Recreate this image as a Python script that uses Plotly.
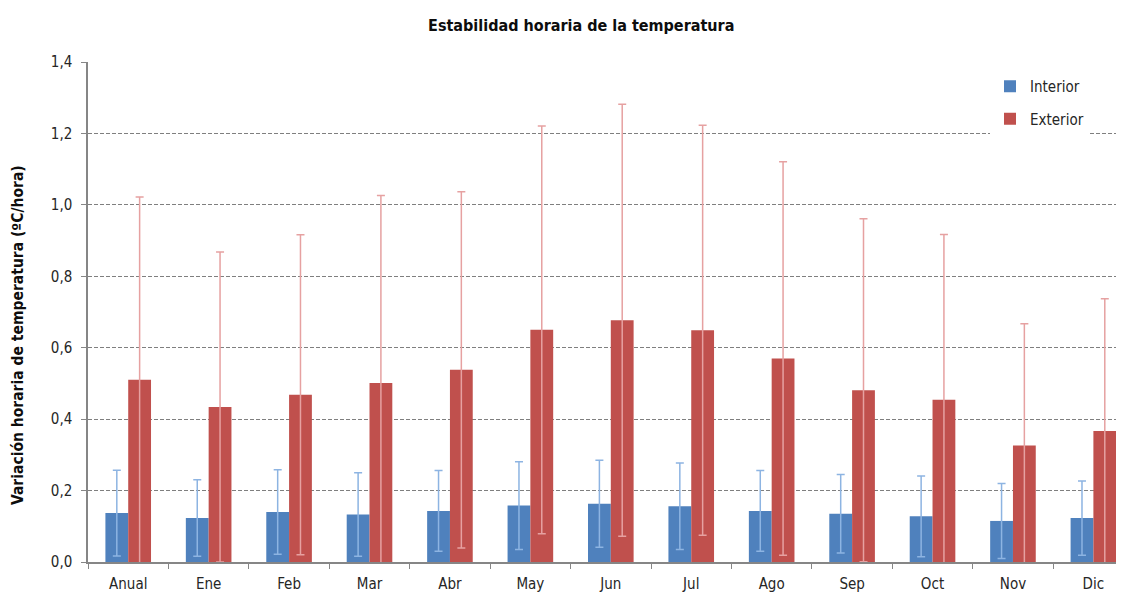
import plotly.graph_objects as go

# Data
categories = ["Anual", "Ene", "Feb", "Mar", "Abr", "May", "Jun", "Jul", "Ago", "Sep", "Oct", "Nov", "Dic"]
interior = [0.137, 0.123, 0.140, 0.133, 0.143, 0.158, 0.163, 0.156, 0.143, 0.135, 0.128, 0.115, 0.123]
interior_err = [0.120, 0.107, 0.118, 0.117, 0.113, 0.123, 0.122, 0.121, 0.113, 0.110, 0.113, 0.105, 0.104]
exterior = [0.510, 0.434, 0.468, 0.501, 0.538, 0.650, 0.677, 0.649, 0.570, 0.481, 0.454, 0.326, 0.367]
exterior_err = [0.512, 0.434, 0.448, 0.525, 0.499, 0.571, 0.605, 0.574, 0.551, 0.480, 0.463, 0.341, 0.370]

FONT = "Liberation Sans Narrow, Arial Narrow, DejaVu Sans Condensed, sans-serif"

fig = go.Figure()

fig.add_trace(go.Bar(
    x=categories, y=interior, name="Interior",
    marker=dict(color="#4F81BD", line=dict(width=0)),
    error_y=dict(type="data", array=interior_err, visible=True,
                 color="#8DB4E2", thickness=1.5, width=4),
    legendgroup="a",
))
fig.add_trace(go.Bar(
    x=categories, y=exterior, name="Exterior",
    marker=dict(color="#C0504D", line=dict(width=0)),
    error_y=dict(type="data", array=exterior_err, visible=True,
                 color="#E6A1A1", thickness=1.5, width=4),
    legendgroup="b",
))

# the page body adds an 8px offset, margins are set to compensate
fig.update_layout(
    width=1124, height=592,
    margin=dict(l=80, r=0, t=54, b=38),
    paper_bgcolor="white", plot_bgcolor="white",
    font=dict(family=FONT, size=14, color="#262626"),
    separators=",.",
    barmode="group",
    bargap=0.433,
    bargroupgap=0,
    title=dict(text="<b>Estabilidad horaria de la temperatura</b>",
               x=0.51, xanchor="center", y=0.971, yanchor="middle",
               font=dict(family=FONT, size=16, color="#0d0d0d")),
    legend=dict(x=0.864, y=0.984, xanchor="left", yanchor="top",
                bgcolor="white", traceorder="grouped", tracegroupgap=10,
                font=dict(family=FONT, size=15, color="#262626")),
    showlegend=True,
)

fig.update_xaxes(
    type="category", range=[-0.5, 12.48],
    showline=True, linecolor="#868686", linewidth=1.5,
    ticks="outside", tickson="boundaries", ticklen=5, tickcolor="#868686",
    ticklabelstandoff=7,
    showgrid=False,
    tickfont=dict(family=FONT, size=15, color="#262626"),
)
fig.update_yaxes(
    range=[0, 1.4], dtick=0.2, tickformat=".1f",
    showline=True, linecolor="#868686", linewidth=1.5,
    ticks="outside", ticklen=5, tickcolor="#868686",
    ticklabelstandoff=6,
    showgrid=True, gridcolor="#7f7f7f", gridwidth=1, griddash="4px,2px",
    zeroline=False,
    tickfont=dict(family=FONT, size=15, color="#262626"),
)

fig.add_annotation(
    text="<b>Variación horaria de temperatura (ºC/hora)</b>",
    xref="paper", yref="paper",
    x=(10 - 80) / 1044, y=(554 - 327) / 500,
    xanchor="center", yanchor="middle", textangle=-90, showarrow=False,
    font=dict(family=FONT, size=15.5, color="#0d0d0d"),
)

fig.write_html("out.html")
